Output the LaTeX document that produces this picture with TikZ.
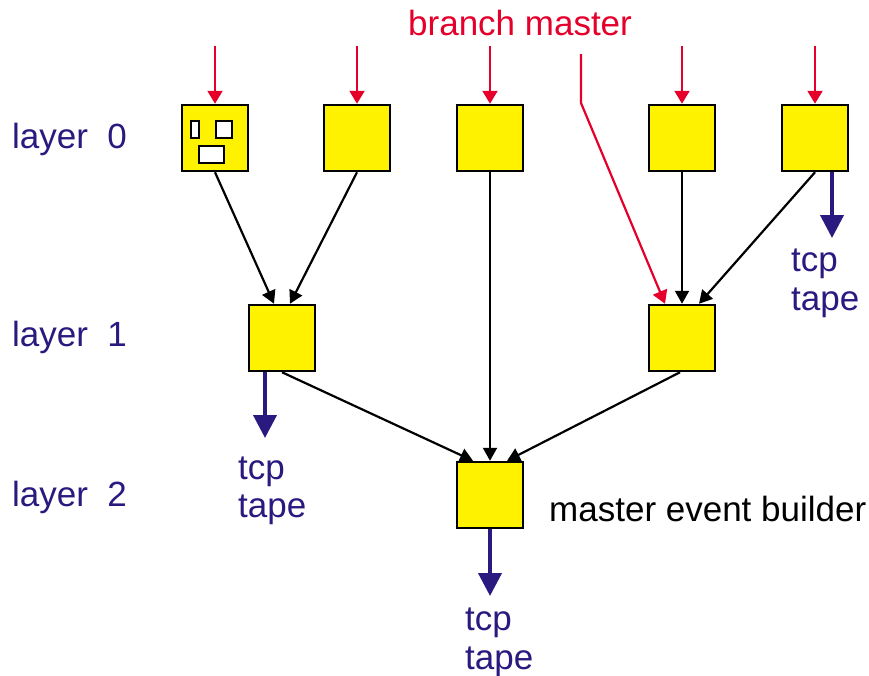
\documentclass[tikz,border=0pt]{standalone}
\usepackage{fontspec}
\setmainfont{Liberation Sans}
\usetikzlibrary{arrows.meta}
\definecolor{boxyellow}{HTML}{FFF200}
\definecolor{feedred}{HTML}{E4002B}
\definecolor{tapeblue}{HTML}{2A1A80}
\tikzset{
  ebbox/.style={draw=black, fill=boxyellow, line width=2.5pt, minimum size=66pt, inner sep=0pt},
  slot/.style={draw=black, fill=white, line width=2pt, inner sep=0pt},
  datalink/.style={draw=black, line width=2.2pt, -{Triangle[length=13pt,width=14pt]}},
  feedlink/.style={draw=feedred, line width=2.2pt, -{Triangle[length=13pt,width=15pt]}},
  tapelink/.style={draw=tapeblue, line width=4pt, -{Triangle[length=23pt,width=23pt]}},
  lbl/.style={font=\fontsize{35}{38.5}\selectfont, inner sep=0pt, anchor=base west},
  tapelbl/.style={lbl, text=tapeblue, align=left, anchor=north west},
}
\begin{document}
\begin{tikzpicture}[x=1pt,y=-1pt]
\useasboundingbox (0,0) rectangle (869,675);
\node[ebbox] (ltu0) at (215,138){};
\node[ebbox] (ltu1) at (357,138){};
\node[ebbox] (ltu2) at (490,138){};
\node[ebbox] (ltu3) at (682,138){};
\node[ebbox] (ltu4) at (815,138){};
\node[ebbox] (sub0) at (282,338){};
\node[ebbox] (sub1) at (682,338){};
\node[ebbox] (top) at (490,495){};
% ports of the first box
\node[slot, minimum width=8pt, minimum height=17pt] (port0) at (194.5,129){};
\node[slot, minimum width=16pt, minimum height=17pt] (port1) at (223.5,129){};
\node[slot, minimum width=25pt, minimum height=17pt] (port2) at (211,154){};
% free ends
\coordinate (in0) at (215,46);
\coordinate (in1) at (357,46);
\coordinate (in2) at (490,46);
\coordinate (in3) at (682,46);
\coordinate (in4) at (815,46);
\coordinate (bm0) at (581,54);
\coordinate (bm1) at (581,103);
\coordinate (out0) at (832,238);
\coordinate (out1) at (265,438);
\coordinate (out2) at (490,596);
% inputs
\draw[feedlink] (in0) -- (ltu0);
\draw[feedlink] (in1) -- (ltu1);
\draw[feedlink] (in2) -- (ltu2);
\draw[feedlink] (in3) -- (ltu3);
\draw[feedlink] (in4) -- (ltu4);
\draw[feedlink] (bm0) -- (bm1) -- ([xshift=-17pt]sub1.north);
% event building
\draw[datalink] (ltu0.south) -- ([xshift=-8pt]sub0.north);
\draw[datalink] (ltu1.south) -- ([xshift=8pt]sub0.north);
\draw[datalink] (ltu3.south) -- (sub1.north);
\draw[datalink] (ltu4.south) -- ([xshift=17pt]sub1.north);
\draw[datalink] (ltu2.south) -- (top.north);
\draw[datalink] (sub0.south) -- ([xshift=-17pt]top.north);
\draw[datalink] ([xshift=-2pt]sub1.south) -- ([xshift=17pt]top.north);
% to tape
\draw[tapelink] (ltu4.south -| out0) -- (out0);
\draw[tapelink] (sub0.south -| out1) -- (out1);
\draw[tapelink] (top.south) -- (out2);
% labels
\node[lbl, text=feedred] (title) at (408,35){branch master};
\node[lbl, text=tapeblue] (lay0) at (12,148){layer\ \ 0};
\node[lbl, text=tapeblue] (lay1) at (12,346){layer\ \ 1};
\node[lbl, text=tapeblue] (lay2) at (12,506){layer\ \ 2};
\node[lbl] (meb) at (549,521){master event builder};
\node[tapelbl] (tape0) at (791,249){tcp\\tape};
\node[tapelbl] (tape1) at (238,456.5){tcp\\tape};
\node[tapelbl] (tape2) at (465,608){tcp\\tape};
\end{tikzpicture}
\end{document}
